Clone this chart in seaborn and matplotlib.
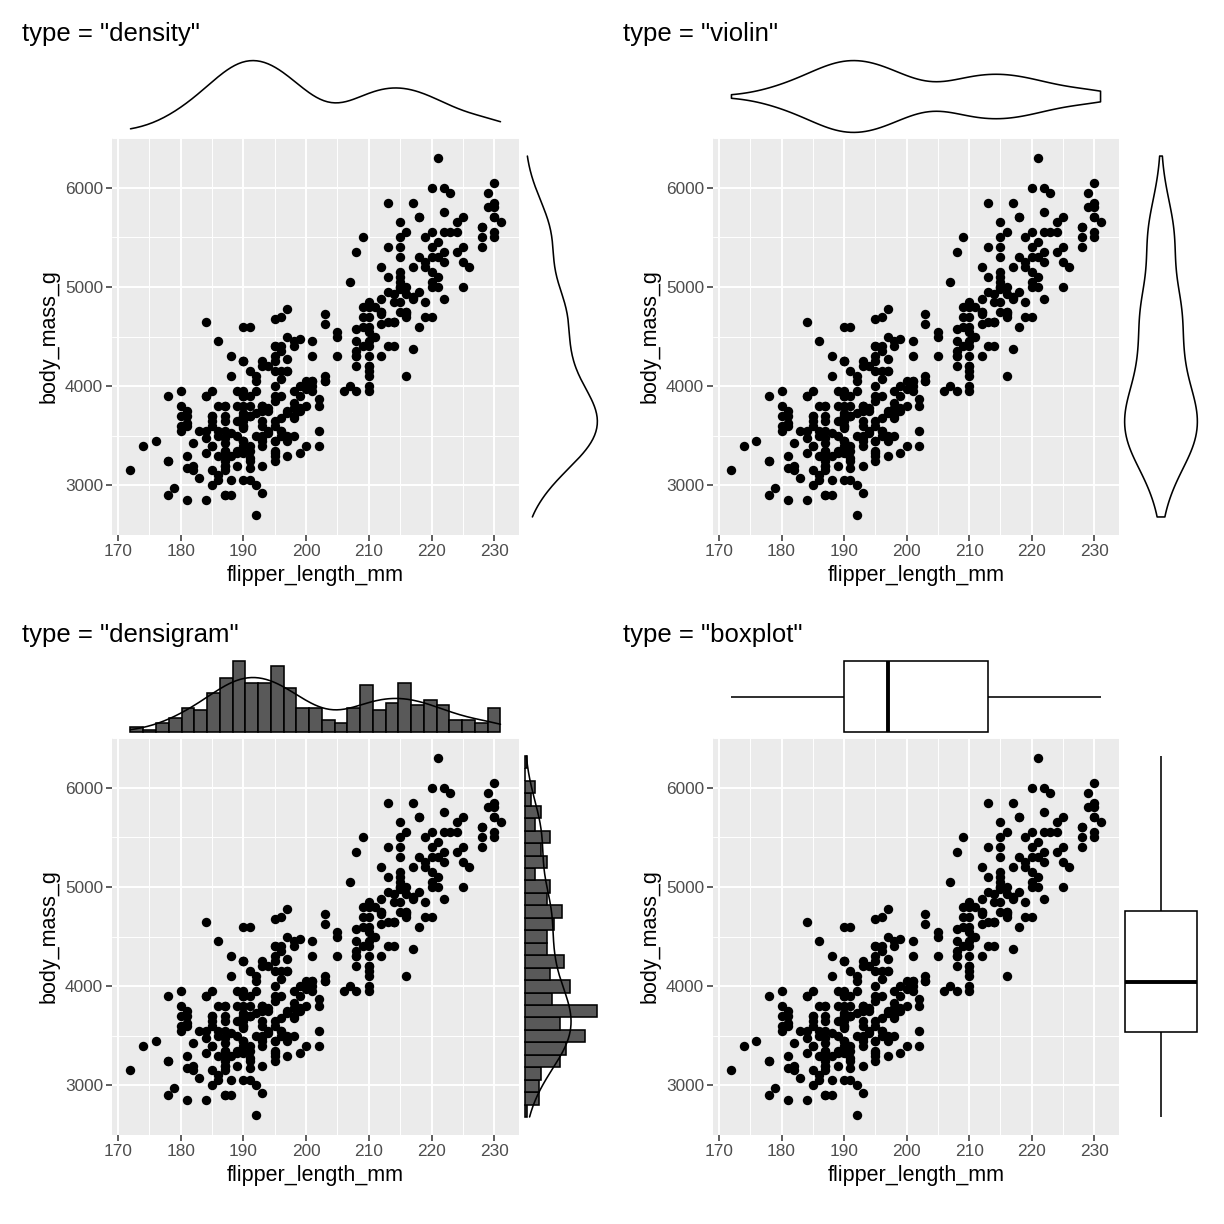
import numpy as np
import pandas as pd
import matplotlib
matplotlib.use("Agg")
import matplotlib.pyplot as plt
import seaborn as sns

# ---------------- data (Palmer penguins) ----------------
adelie_flipper = [
    181, 186, 195, 193, 190, 181, 195, 193, 190, 186,
    180, 182, 191, 198, 185, 195, 197, 184, 194, 174,
    180, 189, 185, 180, 187, 183, 187, 172, 180, 178,
    178, 188, 184, 195, 196, 190, 180, 181, 184, 182,
    195, 186, 196, 185, 190, 182, 179, 190, 191, 186,
    188, 190, 200, 187, 191, 186, 193, 181, 194, 185,
    195, 185, 192, 184, 192, 195, 188, 190, 198, 190,
    190, 196, 197, 190, 195, 191, 184, 187, 195, 189,
    196, 187, 193, 191, 194, 190, 189, 189, 190, 202,
    205, 185, 186, 187, 208, 190, 196, 178, 192, 192,
    203, 183, 190, 193, 184, 199, 190, 181, 197, 198,
    191, 193, 197, 191, 196, 188, 199, 189, 189, 187,
    198, 176, 202, 186, 199, 191, 195, 191, 210, 190,
    197, 193, 199, 187, 190, 191, 200, 185, 193, 193,
    187, 188, 190, 192, 185, 190, 184, 195, 193, 187,
    201]
adelie_mass = [
    3750, 3800, 3250, 3450, 3650, 3625, 4675, 3475, 4250, 3300,
    3700, 3200, 3800, 4400, 3700, 3450, 4500, 3325, 4200, 3400,
    3600, 3800, 3950, 3800, 3800, 3550, 3200, 3150, 3950, 3250,
    3900, 3300, 3900, 3325, 4150, 3950, 3550, 3300, 4650, 3150,
    3900, 3100, 4400, 3000, 4600, 3425, 2975, 3450, 4150, 3500,
    4300, 3450, 4050, 2900, 3700, 3550, 3800, 2850, 3750, 3150,
    4400, 3600, 4050, 2850, 3950, 3350, 4100, 3050, 4450, 3600,
    3900, 3550, 4150, 3700, 4250, 3700, 3900, 3550, 4000, 3200,
    4700, 3800, 4200, 3350, 3550, 3800, 3500, 3950, 3600, 3550,
    4300, 3400, 4450, 3300, 4300, 3700, 4350, 2900, 4100, 3725,
    4725, 3075, 4250, 2925, 3550, 3750, 3900, 3175, 4775, 3825,
    4600, 3200, 4275, 3900, 4075, 2900, 3775, 3350, 3325, 3150,
    3500, 3450, 3875, 3050, 4000, 3275, 4300, 3050, 4000, 3325,
    3500, 3500, 4475, 3425, 3900, 3175, 3975, 3400, 4250, 3400,
    3475, 3050, 3725, 3000, 3650, 4250, 3475, 3450, 3750, 3700,
    4000]

gentoo_flipper = [
    211, 230, 210, 218, 215, 210, 211, 219, 209, 215,
    214, 216, 214, 213, 210, 217, 210, 221, 209, 222,
    218, 215, 213, 215, 215, 215, 216, 215, 210, 220,
    222, 209, 207, 230, 220, 220, 213, 219, 208, 208,
    208, 225, 210, 216, 222, 217, 210, 225, 213, 215,
    210, 220, 210, 225, 217, 220, 208, 220, 208, 224,
    208, 221, 214, 231, 219, 230, 214, 229, 220, 223,
    216, 221, 221, 217, 216, 230, 209, 220, 215, 223,
    212, 221, 212, 224, 212, 228, 218, 218, 212, 230,
    218, 228, 212, 224, 214, 226, 216, 222, 203, 225,
    219, 228, 215, 228, 216, 215, 210, 219, 208, 209,
    216, 229, 213, 230, 217, 230, 217, 222, 214, 215,
    222, 212, 213]
gentoo_mass = [
    4500, 5700, 4450, 5700, 5400, 4550, 4800, 5200, 4400, 5150,
    4650, 5550, 4650, 5850, 4200, 5850, 4150, 6300, 4800, 5350,
    5700, 5000, 4400, 5050, 5000, 5100, 4100, 5650, 4600, 5550,
    5250, 4700, 5050, 6050, 5150, 5400, 4950, 5250, 4350, 5350,
    3950, 5700, 4300, 4750, 5550, 4900, 4200, 5400, 5100, 5300,
    4850, 5300, 4400, 5000, 4900, 5050, 4300, 5000, 4450, 5550,
    4200, 5300, 4400, 5650, 4700, 5700, 4650, 5800, 4700, 5550,
    4750, 5000, 5100, 5200, 4700, 5800, 4600, 6000, 4750, 5950,
    4625, 5450, 4725, 5350, 4750, 5600, 4600, 5300, 4875, 5550,
    4950, 5400, 4750, 5650, 4850, 5200, 4925, 4875, 4625, 5250,
    4850, 5600, 4975, 5500, 4725, 5500, 4700, 5500, 4575, 5500,
    5000, 5950, 4650, 5500, 4375, 5850, 4875, 6000, 4925, 4850,
    5750, 5200, 5400]

chinstrap_flipper = [
    192, 196, 193, 188, 197, 198, 178, 197, 195, 198,
    193, 194, 185, 201, 190, 201, 197, 181, 190, 195,
    181, 191, 187, 193, 195, 197, 200, 200, 191, 205,
    187, 201, 187, 203, 195, 199, 195, 210, 192, 205,
    210, 187, 196, 196, 196, 201, 190, 212, 187, 198,
    199, 201, 193, 203, 187, 197, 191, 203, 202, 194,
    206, 189, 195, 207, 202, 193, 210, 198]
chinstrap_mass = [
    3500, 3900, 3650, 3525, 3725, 3950, 3250, 3750, 4150, 3700,
    3800, 3775, 3700, 4050, 3575, 4050, 3300, 3700, 3450, 4400,
    3600, 3400, 2900, 3800, 3300, 4150, 3400, 3800, 3700, 4550,
    3200, 4300, 3350, 4100, 3600, 3900, 3850, 4800, 2700, 4500,
    3950, 3650, 3550, 3500, 3675, 4450, 3400, 4300, 3250, 3675,
    3325, 3950, 3600, 4050, 3350, 3450, 3250, 4050, 3800, 3525,
    3950, 3650, 3650, 4000, 3400, 3775, 4100, 3775]

panel_types = ["density", "violin", "densigram", "boxplot"]
x_ticks = [170, 180, 190, 200, 210, 220, 230]
y_ticks = [3000, 4000, 5000, 6000]
x_label = "flipper_length_mm"
y_label = "body_mass_g"

df = pd.DataFrame({
    "flipper_length_mm": adelie_flipper + gentoo_flipper + chinstrap_flipper,
    "body_mass_g": adelie_mass + gentoo_mass + chinstrap_mass,
})
fx = df["flipper_length_mm"].to_numpy(float)
fy = df["body_mass_g"].to_numpy(float)

# ---------------- style ----------------
sns.set_theme(style="white")
plt.rcParams["font.family"] = ["Liberation Sans", "DejaVu Sans"]

W = H = 1224
fig = plt.figure(figsize=(W / 100, H / 100), dpi=100)
fig.patch.set_facecolor("white")


def px_axes(x0, y0, x1, y1):
    return fig.add_axes([x0 / W, 1 - y1 / H, (x1 - x0) / W, (y1 - y0) / H])


xr = (fx.min(), fx.max())
yr = (fy.min(), fy.max())
xexp = 0.05 * (xr[1] - xr[0])
yexp = 0.05 * (yr[1] - yr[0])
XLIM = (xr[0] - xexp, xr[1] + xexp)
YLIM = (yr[0] - yexp, yr[1] + yexp)

LW = 1.15
HISTC = "#595959"
NBINS = 29


def style_main(ax):
    ax.set_facecolor("#EBEBEB")
    for s in ax.spines.values():
        s.set_visible(False)
    ax.set_xlim(*XLIM)
    ax.set_ylim(*YLIM)
    ax.set_xticks(x_ticks)
    ax.set_yticks(y_ticks)
    ax.set_xticks([175, 185, 195, 205, 215, 225], minor=True)
    ax.set_yticks([2500, 3500, 4500, 5500, 6500], minor=True)
    ax.grid(True, which="major", color="white", linewidth=1.4)
    ax.grid(True, which="minor", color="white", linewidth=0.7)
    ax.set_axisbelow(True)
    ax.tick_params(axis="both", which="major", direction="out", length=4,
                   width=1.1, color="#333333", labelsize=12.4,
                   labelcolor="#4D4D4D", pad=2.5, bottom=True, left=True)
    ax.tick_params(axis="both", which="minor", length=0)
    ax.set_xlabel(x_label, fontsize=15.5, color="black", labelpad=4.5)
    ax.set_ylabel(y_label, fontsize=15.5, color="black", labelpad=4)


def style_marg(ax):
    ax.set_axis_off()
    ax.set_facecolor("white")


def ylim_from(ax, M):
    ax.set_ylim(-0.05 * M, 1.05 * M)


def xlim_from(ax, M):
    ax.set_xlim(-0.05 * M, 1.05 * M)


cols = [(112, 519, 521, 601), (713, 1119, 1121, 1201)]
rows = [(138, 535, 57, 136, 34), (738, 1135, 657, 736, 635)]

for i, kind in enumerate(panel_types):
    r, c = divmod(i, 2)
    mx0, mx1, rx0, rx1 = cols[c]
    my0, my1, ty0, ty1, title_y = rows[r]

    ax = px_axes(mx0, my0, mx1, my1)
    sns.scatterplot(data=df, x="flipper_length_mm", y="body_mass_g", ax=ax,
                    color="black", s=46, linewidth=0)
    style_main(ax)

    axt = px_axes(mx0, ty0, mx1, ty1)
    axr = px_axes(rx0, my0, rx1, my1)

    if kind == "density":
        sns.kdeplot(x=fx, ax=axt, cut=0, bw_adjust=0.9, color="black", linewidth=LW)
        sns.kdeplot(y=fy, ax=axr, cut=0, bw_adjust=0.9, color="black", linewidth=LW)
        ylim_from(axt, max(l.get_ydata().max() for l in axt.lines))
        xlim_from(axr, max(l.get_xdata().max() for l in axr.lines))
    elif kind == "violin":
        sns.violinplot(x=fx, ax=axt, cut=0, inner=None, fill=False, color="black",
                       linewidth=LW, width=0.9, bw_adjust=0.9, orient="h")
        sns.violinplot(y=fy, ax=axr, cut=0, inner=None, fill=False, color="black",
                       linewidth=LW, width=0.9, bw_adjust=0.9, orient="v")
        axt.set_ylim(0.495, -0.495)
        axr.set_xlim(-0.495, 0.495)
    elif kind == "densigram":
        sns.histplot(x=fx, ax=axt, stat="density", bins=NBINS, binrange=xr,
                     color=HISTC, edgecolor="black", linewidth=LW, alpha=1)
        sns.kdeplot(x=fx, ax=axt, cut=0, bw_adjust=0.9, color="black", linewidth=LW)
        M = max(max(p.get_height() for p in axt.patches),
                max(l.get_ydata().max() for l in axt.lines))
        ylim_from(axt, M)
        sns.histplot(y=fy, ax=axr, stat="density", bins=NBINS, binrange=yr,
                     color=HISTC, edgecolor="black", linewidth=LW, alpha=1)
        sns.kdeplot(y=fy, ax=axr, cut=0, bw_adjust=0.9, color="black", linewidth=LW)
        M = max(max(p.get_width() for p in axr.patches),
                max(l.get_xdata().max() for l in axr.lines))
        xlim_from(axr, M)
    elif kind == "boxplot":
        sns.boxplot(x=fx, ax=axt, width=0.9, color="white", linecolor="black",
                    linewidth=LW, saturation=1, orient="h", showcaps=False,
                    medianprops={"linewidth": 2.8, "color": "black"})
        sns.boxplot(y=fy, ax=axr, width=0.9, color="white", linecolor="black",
                    linewidth=LW, saturation=1, orient="v", showcaps=False,
                    medianprops={"linewidth": 2.8, "color": "black"})
        axt.set_ylim(0.495, -0.495)
        axr.set_xlim(-0.495, 0.495)

    axt.set_xlim(*XLIM)
    axr.set_ylim(*YLIM)
    style_marg(axt)
    style_marg(axr)

    fig.text((mx0 - 90) / W, 1 - title_y / H, f'type = "{kind}"', fontsize=18.5,
             ha="left", va="center", color="black")

fig.savefig("out.png", dpi=100, facecolor="white")
